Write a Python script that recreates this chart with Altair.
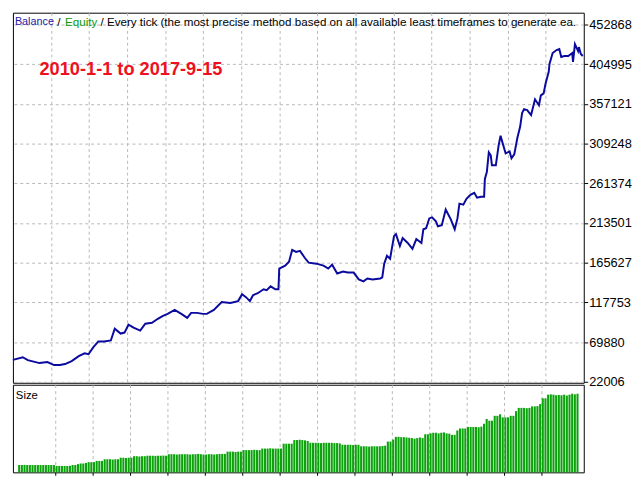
import altair as alt
import pandas as pd

# ---- data ----
trade = [0, 25, 38, 58, 68, 88, 105, 120, 133, 150,
         168, 183, 193, 205, 218, 233, 250, 260, 275, 285,
         295, 308, 325, 338, 355, 370, 383, 395, 413, 430,
         445, 455, 470, 485, 495, 513, 533, 555, 575, 585,
         595, 605, 613, 625, 640, 648, 658, 670, 678, 680,
         695, 705, 713, 723, 733, 745, 755, 775, 793, 805,
         815, 828, 843, 855, 870, 883, 895, 905, 918, 938,
         943, 948, 955, 963, 973, 978, 988, 995, 1008, 1020,
         1030, 1043, 1048, 1055, 1063, 1070, 1080, 1085, 1095, 1105,
         1118, 1128, 1135, 1140, 1150, 1158, 1168, 1178, 1185, 1195,
         1203, 1205, 1210, 1215, 1220, 1223, 1233, 1240, 1245, 1250,
         1258, 1268, 1273, 1280, 1288, 1295, 1300, 1305, 1313, 1323,
         1333, 1343, 1348, 1355, 1360, 1368, 1370, 1378, 1388, 1395,
         1400, 1408, 1418, 1428, 1430, 1435, 1443, 1445, 1450, 1455]

balance = [48480, 51680, 48120, 45750, 44560, 45750, 42190, 42190, 43370, 46930,
           52870, 56430, 55240, 63550, 70670, 70670, 71860, 86100, 80170, 81360,
           90850, 87290, 83730, 92040, 93230, 97970, 101540, 103910, 108660, 103910,
           99160, 105100, 105100, 103910, 103910, 108660, 118150, 116970, 119340, 127650,
           124090, 119340, 126460, 128840, 133580, 132400, 137150, 133580, 133580, 158510,
           162070, 166820, 181060, 178690, 179880, 171570, 165630, 164450, 162070, 158510,
           163260, 152580, 154950, 153760, 153760, 145450, 143080, 146640, 145450, 146640,
           147830, 164450, 173940, 170380, 197680, 200060, 185810, 195310, 189370, 182250,
           194120, 189370, 205990, 207180, 219050, 220240, 215490, 209550, 210740, 229730,
           217860, 205990, 219050, 236850, 235670, 242790, 247540, 249910, 243980, 245160,
           245160, 266530, 274840, 298580, 295020, 283150, 283150, 306890, 318760, 310450,
           297390, 299760, 291460, 296200, 316380, 329440, 346060, 350810, 349620, 343680,
           362680, 355550, 367420, 369800, 381670, 395910, 405410, 418460, 422030, 423210,
           413720, 414900, 414900, 418460, 407780, 429150, 420840, 425590, 417280, 414900]

size_lots = [0.48, 0.48, 0.49, 0.48, 0.48, 0.48, 0.48, 0.48, 0.48, 0.48, 0.48, 0.48, 0.48, 0.48,
             0.42, 0.42, 0.42, 0.42, 0.42, 0.43,
             0.48, 0.48, 0.54, 0.58, 0.58, 0.62, 0.67, 0.67, 0.67, 0.75, 0.75, 0.75,
             0.86, 0.86, 0.86, 0.84, 0.86, 0.86,
             0.96, 0.96, 0.94, 0.96, 0.96,
             1.06, 1.06, 1.04, 1.06, 1.06,
             1.09, 1.09, 1.09, 1.08, 1.09, 1.09, 1.10, 1.09,
             1.19, 1.19, 1.19, 1.17, 1.19, 1.19, 1.19,
             1.19, 1.17, 1.19, 1.19, 1.21, 1.19, 1.17, 1.17, 1.19, 1.19, 1.17, 1.19, 1.21, 1.21, 1.21,
             1.36, 1.36, 1.36, 1.34, 1.36, 1.36,
             1.46, 1.46, 1.46, 1.46, 1.48, 1.46, 1.46,
             1.56, 1.56, 1.56, 1.58, 1.56, 1.56, 1.56, 1.56,
             1.88, 1.88, 1.88, 1.88,
             2.12, 2.12, 2.14, 2.12, 2.10, 2.06,
             1.94, 1.94, 1.94, 1.94, 1.92, 1.94, 1.94, 1.94, 1.94, 1.92, 1.92, 1.90,
             1.81, 1.81, 1.81, 1.81, 1.79, 1.81, 1.81,
             1.71, 1.71, 1.71, 1.69, 1.71, 1.71, 1.71, 1.71, 1.73, 1.75,
             2.02, 2.02, 2.15,
             2.33, 2.33, 2.31, 2.31, 2.29, 2.27,
             2.25, 2.21, 2.25, 2.29, 2.25,
             2.50, 2.50, 2.56,
             2.60, 2.60, 2.56, 2.60, 2.62,
             2.56, 2.54, 2.46, 2.46,
             2.75, 2.88, 2.88, 2.88,
             2.98, 2.98, 2.98, 2.98, 2.96, 3.00,
             3.19, 3.50, 3.39, 3.39, 3.71, 3.71, 3.81, 3.61, 3.61, 3.61, 3.71, 3.71, 4.02,
             4.23, 4.23, 4.23, 4.21, 4.23,
             4.33, 4.33, 4.35, 4.48, 4.86, 4.86,
             5.10, 5.12, 5.10, 5.06, 5.08, 5.06, 5.10, 5.04, 5.10, 5.16, 5.12, 5.16]

y_ticks = [22006, 69880, 117753, 165627, 213501, 261374, 309248, 357121, 404995, 452868]

header_parts = ["Balance", "/", "Equity",
                "/ Every tick (the most precise method based on all available least timeframes to generate ea."]
period_label = "2010-1-1 to 2017-9-15"

# ---- layout ----
W = 580
H_TOP = 376
H_BOT = 89
X_MAX = 1457.5
N_BARS = len(size_lots)

line_df = pd.DataFrame({"trade": trade, "balance": balance})
bars_df = pd.DataFrame({"bar": list(range(N_BARS)), "lots": size_lots})

grid_top = [k * X_MAX / 15 for k in range(1, 15)]
grid_bot = [-0.5 + k * N_BARS / 15 for k in range(1, 15)]

FONT = "Liberation Sans"
GRID = "#B8B8B8"

line = alt.Chart(line_df).mark_line(color="#0A0A9E", strokeWidth=2).encode(
    x=alt.X("trade:Q",
            scale=alt.Scale(domain=[0, X_MAX], nice=False, zero=False),
            axis=alt.Axis(values=grid_top, labels=False, ticks=False, domain=False,
                          grid=True, gridColor=GRID, gridDash=[3, 3], gridWidth=1, title=None)),
    y=alt.Y("balance:Q",
            scale=alt.Scale(domain=[20819, 467111], nice=False, zero=False),
            axis=alt.Axis(orient="right", values=y_ticks, format="d", title=None,
                          domain=False, ticks=True, tickColor="#000", tickSize=4,
                          labelPadding=1, labelFont=FONT, labelFontSize=13, labelColor="#000",
                          grid=True, gridColor=GRID, gridDash=[3, 3], gridWidth=1)),
)

hdr_df = pd.DataFrame({"t": header_parts})


def header(idx, xpos, color, fs):
    return alt.Chart(hdr_df).transform_filter(
        alt.datum.t == header_parts[idx]
    ).mark_text(align="left", baseline="middle", font=FONT, fontSize=fs,
                color=color, clip=True).encode(
        text="t:N", x=alt.value(xpos), y=alt.value(9))


h1 = header(0, 2, "#1A1AA8", 11)
h2 = header(1, 45, "#000", 12)
h3 = header(2, 53, "#0A9A0A", 11.8)
h4 = header(3, 89, "#000", 11.8)

period = alt.Chart(pd.DataFrame({"t": [period_label]})).mark_text(
    align="left", baseline="middle", font=FONT, fontSize=18.5, fontWeight="bold",
    color="#EE1020").encode(text="t:N", x=alt.value(27), y=alt.value(57))

top = alt.layer(line, h1, h2, h3, h4, period).properties(width=W, height=H_TOP)

bars = alt.Chart(bars_df).mark_bar(color="#0BA30B", size=2.1).encode(
    x=alt.X("bar:Q",
            scale=alt.Scale(domain=[-0.5, N_BARS - 0.5], nice=False, zero=False),
            axis=alt.Axis(values=grid_bot, labels=False, ticks=True, tickSize=3,
                          tickColor="#000", domain=False, grid=True, gridColor=GRID,
                          gridDash=[3, 3], gridWidth=1, title=None)),
    y=alt.Y("lots:Q", scale=alt.Scale(domain=[0, 5.75], nice=False), axis=None),
)

size_lbl = alt.Chart(pd.DataFrame({"t": ["Size"]})).mark_text(
    align="left", baseline="middle", font=FONT, fontSize=11.5, color="#000").encode(
    text="t:N", x=alt.value(3), y=alt.value(11))

bottom = alt.layer(bars, size_lbl).properties(width=W, height=H_BOT)

chart = alt.vconcat(top, bottom, spacing=2, bounds="flush").properties(
    padding={"left": 0, "top": 0, "right": 0, "bottom": 0}, background="white"
).configure_view(stroke="#000", strokeWidth=1)

chart.save("out.html", embed_options={"renderer": "svg", "actions": False})
